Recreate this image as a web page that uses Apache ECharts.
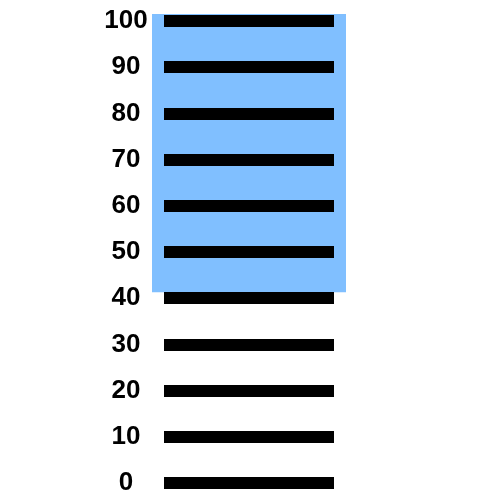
<!DOCTYPE html>
<html>
<head>
<meta charset="utf-8">
<script src="https://cdn.jsdelivr.net/npm/echarts@6/dist/echarts.min.js"></script>
<style>
  html, body { margin: 0; padding: 0; background: #fff; }
  #chart { width: 500px; height: 500px; }
</style>
</head>
<body>
<div id="chart"></div>
<script>
// data
var categories = ['A'];
var rangeLow = [41.3];
var rangeHigh = [101.5];
var tickValues = [0, 10, 20, 30, 40, 50, 60, 70, 80, 90, 100];

var spanValues = rangeHigh.map(function (h, i) { return h - rangeLow[i]; });

var myChart = echarts.init(document.getElementById('chart'));
var option = {
  animation: false,
  grid: { left: 164, right: 166, top: 21, bottom: 17 },
  xAxis: {
    type: 'category',
    data: categories,
    show: false
  },
  yAxis: {
    type: 'value',
    min: tickValues[0],
    max: tickValues[tickValues.length - 1],
    interval: 10,
    z: 5,
    axisLine: { show: false },
    axisTick: { show: false },
    axisLabel: {
      color: '#000',
      fontWeight: 'bold',
      fontSize: 26,
      fontFamily: 'Liberation Sans',
      align: 'center',
      margin: 38
    },
    splitLine: { show: true, lineStyle: { color: '#000', width: 12 } }
  },
  series: [
    {
      name: 'base',
      type: 'bar',
      stack: 'r',
      clip: false,
      barWidth: 194,
      itemStyle: { color: 'transparent' },
      data: rangeLow
    },
    {
      name: 'range',
      type: 'bar',
      stack: 'r',
      clip: false,
      barWidth: 194,
      itemStyle: { color: '#80bfff' },
      data: spanValues
    }
  ]
};
myChart.setOption(option);
</script>
</body>
</html>
